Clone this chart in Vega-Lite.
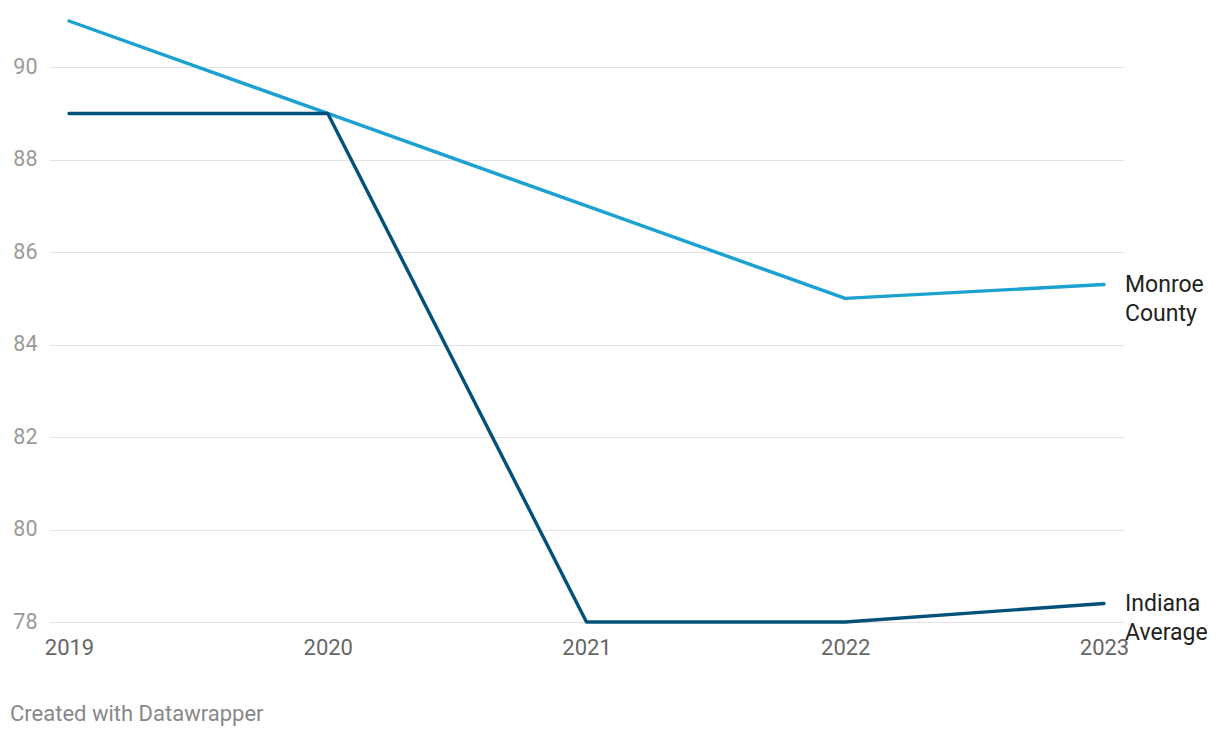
{
  "$schema": "https://vega.github.io/schema/vega-lite/v6.json",
  "autosize": {"type": "none"},
  "width": 1075,
  "height": 601,
  "padding": {"left": 49, "top": 21, "right": 96, "bottom": 116},
  "background": "white",
  "config": {
    "view": {"stroke": null},
    "font": "Roboto",
    "axis": {"labelFont": "Roboto", "titleFont": "Roboto"}
  },
  "title": {
    "text": "Created with Datawrapper",
    "orient": "bottom",
    "anchor": "start",
    "frame": "group",
    "dx": -39,
    "offset": 46,
    "fontSize": 22,
    "font": "Roboto",
    "fontWeight": "normal",
    "color": "#888888"
  },
  "data": {
    "values": [
      {"year": 2019, "value": 91, "series": "Monroe County"},
      {"year": 2020, "value": 89, "series": "Monroe County"},
      {"year": 2021, "value": 87, "series": "Monroe County"},
      {"year": 2022, "value": 85, "series": "Monroe County"},
      {"year": 2023, "value": 85.3, "series": "Monroe County"},
      {"year": 2019, "value": 89, "series": "Indiana Average"},
      {"year": 2020, "value": 89, "series": "Indiana Average"},
      {"year": 2021, "value": 78, "series": "Indiana Average"},
      {"year": 2022, "value": 78, "series": "Indiana Average"},
      {"year": 2023, "value": 78.4, "series": "Indiana Average"}
    ]
  },
  "encoding": {
    "x": {
      "field": "year",
      "type": "quantitative",
      "scale": {"domain": [2018.9227, 2023.0773], "nice": false, "zero": false},
      "axis": {
        "title": null,
        "values": [2019, 2020, 2021, 2022, 2023],
        "format": "d",
        "grid": false,
        "domain": false,
        "ticks": false,
        "labelFontSize": 22,
        "labelColor": "#666666",
        "labelPadding": 15,
        "labelFlush": false,
        "labelOverlap": false
      }
    },
    "y": {
      "field": "value",
      "type": "quantitative",
      "scale": {"domain": [78, 91], "nice": false, "zero": false},
      "axis": {
        "title": null,
        "values": [78, 80, 82, 84, 86, 88, 90],
        "grid": true,
        "gridColor": "#e3e3e3",
        "gridWidth": 1,
        "domain": false,
        "ticks": false,
        "labelFontSize": 21.5,
        "labelColor": "#9a9a9a",
        "labelPadding": 12
      }
    },
    "color": {
      "field": "series",
      "type": "nominal",
      "scale": {"domain": ["Monroe County", "Indiana Average"], "range": ["#1ba2d0", "#01517a"]},
      "legend": null
    }
  },
  "layer": [
    {
      "mark": {"type": "line", "strokeWidth": 3.4, "strokeCap": "round", "strokeJoin": "round"}
    },
    {
      "transform": [
        {"filter": "datum.year == 2023"},
        {"calculate": "split(datum.series, ' ')", "as": "label"}
      ],
      "mark": {
        "type": "text",
        "align": "left",
        "baseline": "top",
        "dx": 21,
        "dy": -11,
        "fontSize": 23,
        "lineHeight": 29.5,
        "font": "Roboto",
        "color": "#222222"
      },
      "encoding": {
        "text": {"field": "label"},
        "color": {"value": "#222222"}
      }
    }
  ]
}
